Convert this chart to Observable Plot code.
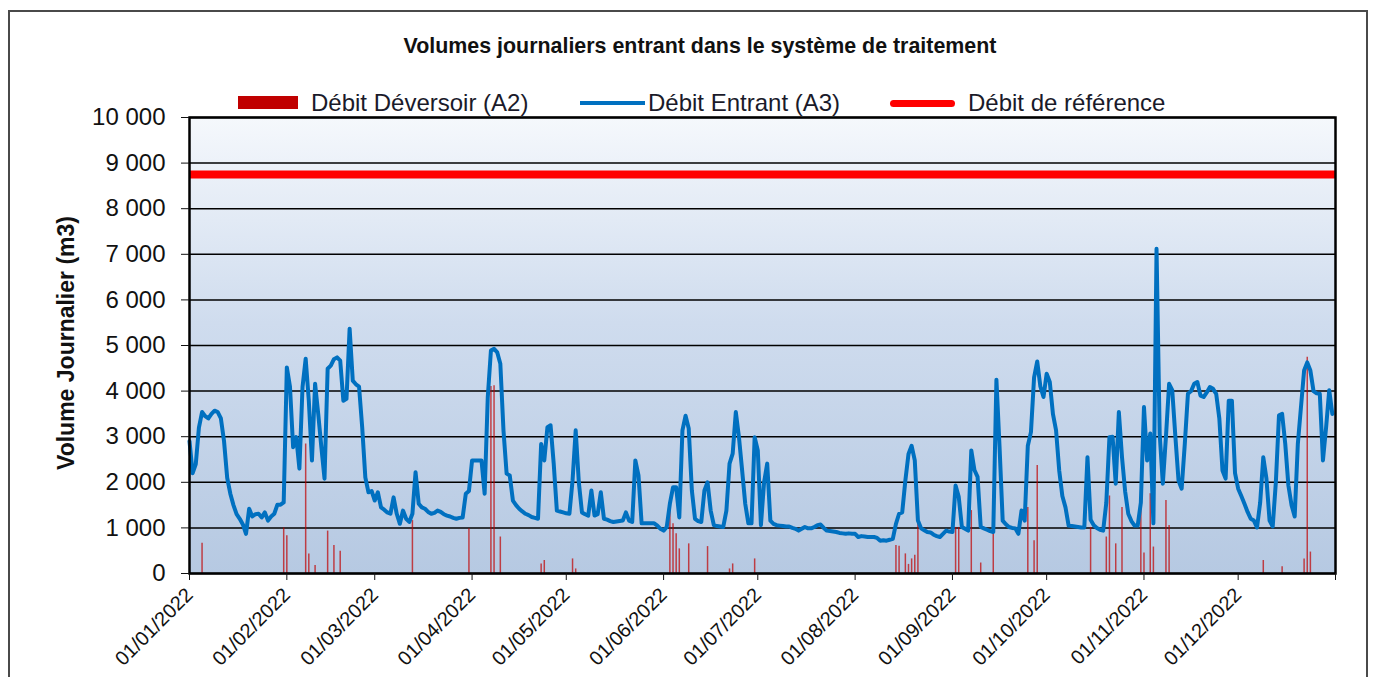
<!DOCTYPE html>
<html>
<head>
<meta charset="utf-8">
<script src="https://cdn.jsdelivr.net/npm/d3@7"></script>
<script src="https://cdn.jsdelivr.net/npm/@observablehq/plot@0.6"></script>
<style>
  body { margin: 0; background: #fff; font-family: "Liberation Sans", Arial, sans-serif; }
  #wrap { position: relative; width: 1376px; height: 677px; overflow: hidden; background: #fff; }
  #outer { position: absolute; left: 8px; top: 10px; width: 1356px; height: 720px; border: 2px solid #4a4a4a; }
  #chart { position: absolute; left: 0; top: 0; }
  #title { position: absolute; left: 0; width: 1400px; top: 36px; text-align: center; font-weight: bold; font-size: 21.4px; line-height: 21px; color: #111; white-space: nowrap; }
  .lg { position: absolute; font-size: 24px; line-height: 24px; top: 91px; color: #1a1a2a; white-space: nowrap; }
  .sw { position: absolute; }
  #ylabel { position: absolute; left: 66px; top: 343px; transform: translate(-50%, -50%) rotate(-90deg); font-weight: bold; font-size: 23px; color: #111; white-space: nowrap; }
</style>
</head>
<body>
<div id="wrap">
  <div id="outer"></div>
  <div id="chart"></div>
  <div id="title"></div>
  <div id="legend"></div>
  <div id="ylabel"></div>
</div>
<script>
// ---- Texts ----
const chartTitle = "Volumes journaliers entrant dans le système de traitement";
const yAxisTitle = "Volume Journalier (m3)";
const seriesNames = ["Débit Déversoir (A2)", "Débit Entrant (A3)", "Débit de référence"];

// ---- Daily inflow (Débit Entrant A3), m3/day, one value per day ----
const janInflow = [2900,2200,2400,3200,3540,3450,3400,3500,3570,3540,3400,2900,2100,1750,1500,1300,1200,1075,870,1420,1250,1300,1310,1230,1340,1160,1250,1310,1510,1510,1560];
const febInflow = [4520,4100,2770,2990,2300,4090,4710,3790,2480,4160,3500,2770,2080,4490,4560,4700,4740,4670,3790,3830,5370,4230,4150,4100,3210,2110,1780,1810];
const marInflow = [1600,1780,1450,1400,1340,1310,1670,1310,1090,1380,1200,1130,1310,2220,1530,1450,1420,1350,1310,1330,1380,1350,1300,1270,1250,1220,1200,1220,1230,1750,1810];
const aprInflow = [2480,2480,2480,2480,1750,3870,4890,4930,4850,4600,3140,2190,2150,1600,1500,1420,1360,1310,1280,1240,1220,1200,2840,2480,3210,3250,2410,1380,1360,1340];
const mayInflow = [1320,1310,2040,3140,2000,1340,1300,1270,1820,1270,1300,1780,1200,1180,1150,1130,1140,1150,1160,1340,1160,1130,2480,2150,1100,1100,1100,1100,1100,1050,980];
const junInflow = [940,1020,1530,1890,1890,1230,3140,3460,3180,1820,1200,1150,1130,1820,2000,1380,1060,1040,1030,1020,1380,2410,2630,3540,2990,2270,1530,1100,1100,2990];
const julInflow = [2700,1060,2000,2410,1160,1090,1060,1050,1040,1030,1030,1000,980,940,980,1020,990,990,1020,1060,1075,1000,940,930,920,910,890,880,870,880,870];
const augInflow = [870,800,820,810,800,800,800,780,720,730,720,740,760,1090,1310,1340,2040,2620,2800,2480,1160,990,950,910,900,850,820,800,870,940,920];
const sepInflow = [910,1930,1680,1020,980,940,2700,2270,2120,1020,990,960,930,910,4250,2770,1160,1080,1020,1000,990,870,1380,1160,2800,3100,4300,4650,4100,3870];
const octInflow = [4380,4200,3500,3140,2260,1700,1450,1050,1040,1030,1020,1010,1010,2550,1180,1060,1000,960,940,1550,2990,3000,1970,3540,2550,1800,1310,1150,1050,1050,1550];
const novInflow = [3650,2480,3070,1100,7120,3070,1970,3000,4160,4020,3000,2040,1860,2840,3940,4000,4160,4200,3900,3870,3970,4090,4050,3940,3400,2260,2080,3790,3790,2200];
const decInflow = [1860,1700,1530,1350,1200,1160,1010,1550,2550,2080,1160,1030,2000,3470,3500,2840,1930,1500,1250,2840,3650,4450,4630,4450,4000,3950,3940,2480,3200,4020,3500];

// ---- Overflow (Débit Déversoir A2): day of year (0 = 01/01/2022) and volume ----
const overflowDays   = [4,30,31,37,38,40,44,46,48,71,89,96,97,99,112,113,122,123,153,154,155,156,159,165,172,173,180,225,226,228,229,230,231,232,244,245,249,252,256,267,269,270,287,292,293,295,297,303,304,306,307,311,312,342,348,355,356,357];
const overflowValues = [665,1000,830,2840,430,175,930,615,490,1160,980,4100,4120,800,210,285,320,100,1530,1090,870,540,650,590,100,210,320,615,600,430,200,320,400,1160,1010,1010,1380,230,1600,1450,720,2370,1010,800,1700,650,1450,1750,450,1750,580,1600,1050,285,150,320,4740,470];

// ---- Reference flow ----
const referenceFlow = 8750;

// ---- Axis ticks ----
const yTicks = [0,1000,2000,3000,4000,5000,6000,7000,8000,9000,10000];
const year = 2022;

// ---- Build tables ----
const dayDate = d => new Date(year, 0, 1 + d);
const inflowValues = [].concat(janInflow, febInflow, marInflow, aprInflow, mayInflow, junInflow,
  julInflow, augInflow, sepInflow, octInflow, novInflow, decInflow);
const inflow = inflowValues.map((v, i) => ({date: dayDate(i), value: v}));
const overflow = overflowDays.map((d, i) => ({date: dayDate(d), value: overflowValues[i]}));
const monthTicks = d3.timeMonth.range(new Date(year, 0, 1), new Date(year + 1, 0, 2));
const fmtDate = d3.timeFormat("%d/%m/%Y");
const fmtNum = d => d3.format(",")(d).replace(/,/g, " ");

const gradientDefs = () => {
  const ns = "http://www.w3.org/2000/svg";
  const defs = document.createElementNS(ns, "defs");
  const g = document.createElementNS(ns, "linearGradient");
  g.setAttribute("id", "bgGrad");
  g.setAttribute("x1", "0"); g.setAttribute("y1", "0");
  g.setAttribute("x2", "0"); g.setAttribute("y2", "1");
  [["0%", "#f5f8fc"], ["45%", "#cfdcee"], ["100%", "#b6c9e2"]].forEach(([o, c]) => {
    const s = document.createElementNS(ns, "stop");
    s.setAttribute("offset", o); s.setAttribute("stop-color", c);
    g.appendChild(s);
  });
  defs.appendChild(g);
  return defs;
};

const plot = Plot.plot({
  width: 1376,
  height: 677,
  marginLeft: 189,
  marginRight: 41,
  marginTop: 117,
  marginBottom: 104,
  style: {fontFamily: "'Liberation Sans', Arial, sans-serif", background: "transparent", overflow: "visible"},
  x: {type: "time", domain: [new Date(year, 0, 1), new Date(year + 1, 0, 1)]},
  y: {domain: [0, 10000]},
  marks: [
    gradientDefs,
    Plot.frame({fill: "url(#bgGrad)", stroke: "none"}),
    Plot.ruleY(yTicks, {stroke: "#000", strokeWidth: 1.5}),
    Plot.ruleX(overflow, {x: "date", y1: 0, y2: "value", stroke: "#c00000", strokeWidth: 1.5, strokeOpacity: 0.7}),
    Plot.line(inflow, {x: "date", y: "value", stroke: "#0070c0", strokeWidth: 4, strokeLinejoin: "round"}),
    Plot.ruleY([referenceFlow], {stroke: "#ff0000", strokeWidth: 8}),
    Plot.frame({stroke: "#000", strokeWidth: 2.5}),
    Plot.axisY({ticks: yTicks, tickSize: 8, tickPadding: 16, tickFormat: fmtNum, fontSize: 24, label: null, color: "#111"}),
    Plot.axisX({ticks: monthTicks, tickSize: 7, tickPadding: 11, tickRotate: -45,
      tickFormat: d => d.getFullYear() === year ? fmtDate(d) : "", fontSize: 20, label: null, color: "#111"})
  ]
});
document.getElementById("chart").appendChild(plot);

// ---- Title, axis title and legend ----
document.getElementById("title").textContent = chartTitle;
document.getElementById("ylabel").textContent = yAxisTitle;
const legend = document.getElementById("legend");
const swatches = [
  {left: 238, top: 96, w: 60, h: 13, color: "#c00000", radius: 0, textLeft: 311},
  {left: 580, top: 101, w: 65, h: 4, color: "#0070c0", radius: 0, textLeft: 648},
  {left: 890, top: 99.5, w: 65, h: 7, color: "#ff0000", radius: 4, textLeft: 968}
];
swatches.forEach((s, i) => {
  const sw = document.createElement("div");
  sw.className = "sw";
  Object.assign(sw.style, {left: s.left + "px", top: s.top + "px", width: s.w + "px", height: s.h + "px",
    background: s.color, borderRadius: s.radius + "px"});
  legend.appendChild(sw);
  const t = document.createElement("div");
  t.className = "lg";
  t.style.left = s.textLeft + "px";
  t.textContent = seriesNames[i];
  legend.appendChild(t);
});
</script>
</body>
</html>
